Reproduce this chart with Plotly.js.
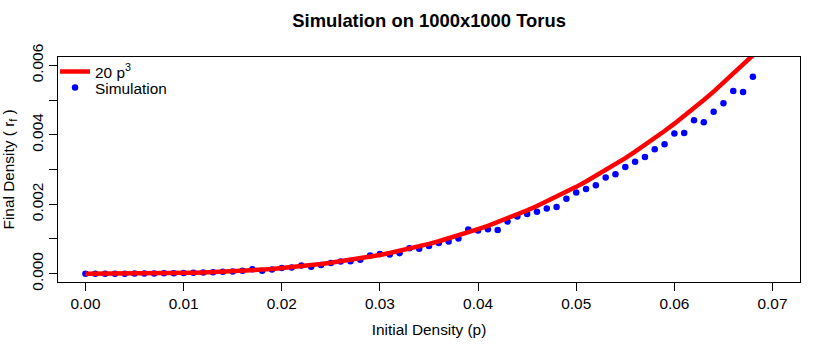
<!DOCTYPE html>
<html>
<head>
<meta charset="utf-8">
<script src="https://cdn.plot.ly/plotly-3.0.1.min.js"></script>
<style>html,body{margin:0;padding:0;background:#fff;}#chart{width:830px;height:355px;}</style>
</head>
<body>
<div id="chart"></div>
<script>
// Initial density p (simulation grid)
const pValues = [0.000,0.001,0.002,0.003,0.004,0.005,0.006,0.007,0.008,0.009,
  0.010,0.011,0.012,0.013,0.014,0.015,0.016,0.017,0.018,0.019,
  0.020,0.021,0.022,0.023,0.024,0.025,0.026,0.027,0.028,0.029,
  0.030,0.031,0.032,0.033,0.034,0.035,0.036,0.037,0.038,0.039,
  0.040,0.041,0.042,0.043,0.044,0.045,0.046,0.047,0.048,0.049,
  0.050,0.051,0.052,0.053,0.054,0.055,0.056,0.057,0.058,0.059,
  0.060,0.061,0.062,0.063,0.064,0.065,0.066,0.067,0.068];

// Simulated final density
const simValues = [0,0,0,0.000001,0.000001,0.000003,0.000004,0.000007,0.000010,0.000015,
  0.000020,0.000028,0.000036,0.000043,0.000052,0.000066,0.000086,0.000125,0.000085,0.000120,
  0.000165,0.000180,0.000235,0.000200,0.000250,0.000310,0.000350,0.000360,0.000400,0.000520,
  0.000570,0.000550,0.000590,0.000730,0.000720,0.000800,0.000880,0.000930,0.001010,0.001270,
  0.001240,0.001280,0.001260,0.001500,0.001650,0.001720,0.001785,0.001880,0.001920,0.002160,
  0.002340,0.002440,0.002550,0.002770,0.002860,0.003070,0.003220,0.003360,0.003580,0.003730,
  0.004040,0.004050,0.004420,0.004360,0.004660,0.004910,0.005260,0.005230,0.005670];

// Reference curve 20 p^3 evaluated at the same p values
const curveValues = [0,0.00000002,0.00000016,0.00000054,0.00000128,0.0000025,0.00000432,0.00000686,0.00001024,0.00001458,
  0.00002,0.00002662,0.00003456,0.00004394,0.00005488,0.0000675,0.00008192,0.00009826,0.00011664,0.00013718,
  0.00016,0.00018522,0.00021296,0.00024334,0.00027648,0.0003125,0.00035152,0.00039366,0.00043904,0.00048778,
  0.00054,0.00059582,0.00065536,0.00071874,0.00078608,0.0008575,0.00093312,0.00101306,0.00109744,0.00118638,
  0.00128,0.00137842,0.00148176,0.00159014,0.00170368,0.0018225,0.00194672,0.00207646,0.00221184,0.00235298,
  0.0025,0.00265302,0.00281216,0.00297754,0.00314928,0.0033275,0.00351232,0.00370386,0.00390224,0.00410758,
  0.00432,0.00453962,0.00476656,0.00500094,0.00524288,0.0054925,0.00574992,0.00601526,0.00628864];

const xTickVals = [0,0.01,0.02,0.03,0.04,0.05,0.06,0.07];
const xTickText = ["0.00","0.01","0.02","0.03","0.04","0.05","0.06","0.07"];
const yTickVals = [0,0.002,0.004,0.006];
const yTickText = ["0.000","0.002","0.004","0.006"];
const yMinorVals = [0.001,0.003,0.005];

const seriesNames = ["Simulation","20 p<sup>3</sup>"];

const FONT = "Liberation Sans, Arial, Helvetica, sans-serif";

const traces = [
  {x: pValues, y: simValues, type: "scatter", mode: "markers", name: seriesNames[0],
   marker: {color: "#0000ff", size: 6.5}, legend: "legend2"},
  {x: pValues, y: curveValues, type: "scatter", mode: "lines", name: seriesNames[1],
   line: {color: "#ff0000", width: 4.5}, legend: "legend"}
];

const legendBase = {xanchor: "left", yanchor: "top", bgcolor: "rgba(0,0,0,0)", borderwidth: 0,
                    font: {size: 15.4, color: "#000"}};

const layout = {
  width: 830, height: 355,
  margin: {l: 58, r: 30, t: 57, b: 73},
  paper_bgcolor: "#ffffff", plot_bgcolor: "#ffffff",
  font: {family: FONT, size: 15.4, color: "#000"},
  showlegend: true,
  title: {text: "Simulation on 1000x1000 Torus", font: {family: FONT, size: 18.4, weight: "bold", color: "#000"},
          x: 0.517, xanchor: "center", y: 1 - 21/355, yanchor: "middle", yref: "container"},
  xaxis: {range: [-0.0028, 0.0728], tickvals: xTickVals, ticktext: xTickText,
          showgrid: false, zeroline: false, showline: true, mirror: true, linecolor: "#000", linewidth: 1,
          ticks: "outside", ticklen: 8, tickcolor: "#000", tickfont: {size: 15.4},
          title: {text: "Initial Density (p)", font: {size: 15.4}, standoff: 12}},
  yaxis: {range: [-0.00024, 0.00624], tickvals: yTickVals, ticktext: yTickText, tickangle: -90,
          showgrid: false, zeroline: false, showline: true, mirror: true, linecolor: "#000", linewidth: 1,
          ticks: "outside", ticklen: 8, tickcolor: "#000", tickfont: {size: 15.4},
          minor: {tickvals: yMinorVals, ticks: "outside", ticklen: 8, tickcolor: "#000", showgrid: false}},
  legend: Object.assign({x: -0.004, y: 1 + 2/225}, legendBase),
  legend2: Object.assign({x: -0.004, y: 1 - 14/225}, legendBase),
  annotations: [
    {text: "Final Density ( r<sub>f</sub> )", xref: "paper", yref: "paper", x: 0, y: 0.5,
     xanchor: "center", yanchor: "middle", textangle: -90, xshift: -49, showarrow: false,
     font: {size: 15.4, color: "#000"}}
  ]
};

Plotly.newPlot("chart", traces, layout, {displayModeBar: false, staticPlot: true});
</script>
</body>
</html>
